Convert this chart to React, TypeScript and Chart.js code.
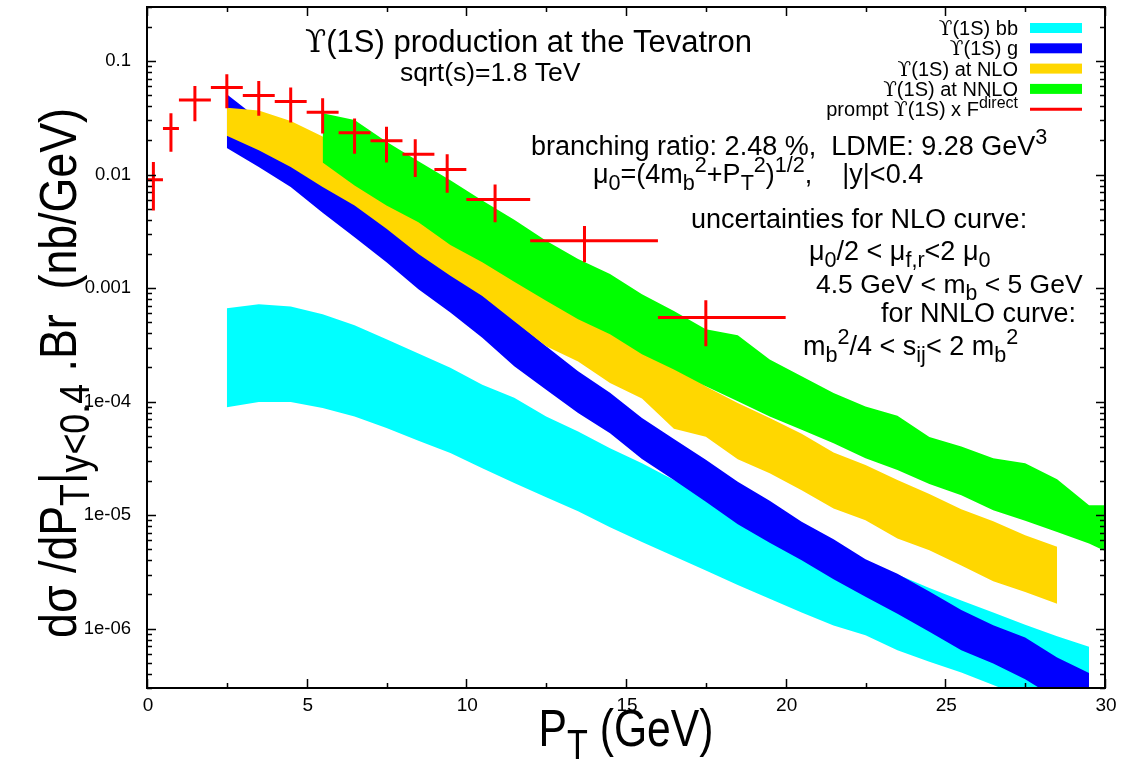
import React, { useEffect, useRef } from "react";
import { Chart, registerables } from "chart.js";

Chart.register(...registerables);

const FONT = "'Liberation Sans', Arial, Helvetica, 'DejaVu Sans', sans-serif";
const SYMFONT = "'DejaVu Serif', 'Liberation Serif', serif";
const CYAN = "#00ffff";
const BLUE = "#0000ff";
const GOLD = "#ffd700";
const GREEN = "#00ff00";
const RED = "#ff0000";

// P_T grid of the theory bands (GeV)
const ptGrid = [2.5, 3.5, 4.5, 5.5, 6.5, 7.5, 8.5, 9.5, 10.5, 11.5, 12.5, 13.5, 14.5, 15.5, 16.5, 17.5, 18.5, 19.5, 20.5, 21.5, 22.5, 23.5, 24.5, 25.5, 26.5, 27.5, 28.5, 29.5];
const nloPt = [2.5, 3.5, 4.5, 5.5, 6.5, 7.5, 8.5, 9.5, 10.5, 11.5, 12.5, 13.5, 14.5, 15.5, 16.5, 17.5, 18.5, 19.5, 20.5, 21.5, 22.5, 23.5, 24.5, 25.5, 26.5, 27.5, 28.5];
const nnloPt = [5.5, 6.5, 7.5, 8.5, 9.5, 10.5, 11.5, 12.5, 13.5, 14.5, 15.5, 16.5, 17.5, 18.5, 19.5, 20.5, 21.5, 22.5, 23.5, 24.5, 25.5, 26.5, 27.5, 28.5, 29.5, 30];

// Upsilon(1S) bb (cyan)
const bbUpper = [6.65e-4, 7.21e-4, 6.89e-4, 5.89e-4, 4.71e-4, 3.54e-4, 2.66e-4, 1.99e-4, 1.41e-4, 1.08e-4, 7.41e-5, 5.46e-5, 3.89e-5, 2.87e-5, 2.04e-5, 1.47e-5, 1.064e-5, 7.67e-6, 5.65e-6, 4.3e-6, 3.55e-6, 3.0e-6, 2.28e-6, 1.77e-6, 1.39e-6, 1.08e-6, 8.59e-7, 6.93e-7];
const bbLower = [8.91e-5, 9.93e-5, 9.93e-5, 8.79e-5, 7.41e-5, 5.85e-5, 4.52e-5, 3.52e-5, 2.59e-5, 1.92e-5, 1.44e-5, 1.084e-5, 7.83e-6, 5.81e-6, 4.34e-6, 3.26e-6, 2.43e-6, 1.83e-6, 1.39e-6, 1.064e-6, 8.75e-7, 6.46e-7, 5.11e-7, 4.1e-7, 3.19e-7, 2.45e-7, 1.92e-7, 1.5e-7];

// Upsilon(1S) g (blue)
const gUpper = [5.11e-2, 3.07e-2, 1.84e-2, 1.107e-2, 6.65e-3, 4.0e-3, 2.4e-3, 1.44e-3, 8.67e-4, 5.21e-4, 3.08e-4, 1.85e-4, 1.2e-4, 7.18e-5, 4.68e-5, 3.07e-5, 1.97e-5, 1.34e-5, 8.73e-6, 6.14e-6, 4.08e-6, 3.05e-6, 2.12e-6, 1.46e-6, 1.07e-6, 8.37e-7, 5.57e-7, 4.06e-7];
const gLower = [1.72e-2, 1.17e-2, 7.78e-3, 4.61e-3, 2.81e-3, 1.69e-3, 9.8e-4, 6.1e-4, 3.66e-4, 2.05e-4, 1.276e-4, 7.94e-5, 5.28e-5, 3.13e-5, 2.04e-5, 1.31e-5, 8.32e-6, 5.71e-6, 4.0e-6, 2.72e-6, 1.91e-6, 1.35e-6, 9.4e-7, 6.46e-7, 4.93e-7, 3.59e-7, 2.4e-7, 1.7e-7];

// Upsilon(1S) at NLO (gold)
const nloUpper = [3.89e-2, 3.68e-2, 2.97e-2, 2.17e-2, 1.44e-2, 9.6e-3, 6.38e-3, 4.25e-3, 2.82e-3, 1.88e-3, 1.225e-3, 8.0e-4, 5.32e-4, 3.4e-4, 2.17e-4, 1.36e-4, 9.73e-5, 7.18e-5, 5.21e-5, 3.57e-5, 2.77e-5, 2.04e-5, 1.535e-5, 1.13e-5, 8.85e-6, 6.65e-6, 5.26e-6];
const nloLower = [2.2e-2, 1.64e-2, 1.17e-2, 7.78e-3, 5.35e-3, 3.33e-3, 2.0e-3, 1.285e-3, 8.55e-4, 5.11e-4, 3.08e-4, 2.26e-4, 1.46e-4, 1.064e-4, 5.77e-5, 4.9e-5, 3.11e-5, 2.34e-5, 1.66e-5, 1.146e-5, 9.04e-6, 6.22e-6, 4.9e-6, 3.61e-6, 2.62e-6, 2.1e-6, 1.66e-6];

// Upsilon(1S) at NNLO (green)
const nnloUpper = [3.47e-2, 3.03e-2, 1.946e-2, 1.312e-2, 8.91e-3, 5.93e-3, 4.0e-3, 2.62e-3, 1.81e-3, 1.33e-3, 8.85e-4, 6.3e-4, 4.34e-4, 3.84e-4, 2.35e-4, 1.67e-4, 1.19e-4, 9.08e-5, 7.52e-5, 4.87e-5, 4.02e-5, 3.18e-5, 2.87e-5, 2.07e-5, 1.22e-5, 1.22e-5];
const nnloLower = [1.277e-2, 8.04e-3, 5.35e-3, 3.81e-3, 2.4e-3, 1.69e-3, 1.14e-3, 7.73e-4, 5.32e-4, 3.92e-4, 2.61e-4, 1.92e-4, 1.365e-4, 1.007e-4, 7.41e-5, 5.65e-5, 4.31e-5, 3.18e-5, 2.5e-5, 1.88e-5, 1.5e-5, 1.107e-5, 8.91e-6, 7.11e-6, 5.62e-6, 4.83e-6];

// prompt Upsilon(1S) x F^direct data
const dataPt = [0.2, 0.75, 1.5, 2.5, 3.5, 4.5, 5.5, 6.5, 7.5, 8.4, 9.4, 10.9, 13.7, 17.5];
const dataPtLow = [0, 0.5, 1, 2, 3, 4, 5, 6, 7, 8, 9, 10, 12, 16];
const dataPtHigh = [0.5, 1, 2, 3, 4, 5, 6, 7, 8, 9, 10, 12, 16, 20];
const dataY = [9.0e-3, 2.55e-2, 4.55e-2, 5.85e-2, 4.97e-2, 4.4e-2, 3.54e-2, 2.34e-2, 1.99e-2, 1.51e-2, 1.11e-2, 6.04e-3, 2.62e-3, 5.51e-4];
const dataYHigh = [1.29e-2, 3.47e-2, 6.04e-2, 7.67e-2, 6.7e-2, 5.85e-2, 4.71e-2, 3.13e-2, 2.64e-2, 2.05e-2, 1.51e-2, 8.2e-3, 3.52e-3, 7.84e-4];
const dataYLow = [4.83e-3, 1.59e-2, 2.96e-2, 3.84e-2, 3.31e-2, 2.88e-2, 2.31e-2, 1.53e-2, 1.28e-2, 9.55e-3, 6.93e-3, 3.81e-3, 1.69e-3, 3.08e-4];

// axes
const xTickValues = [0, 5, 10, 15, 20, 25, 30];
const xTickLabels = ["0", "5", "10", "15", "20", "25", "30"];
const yTickValues = [0.1, 0.01, 0.001, 1e-4, 1e-5, 1e-6];
const yTickLabels = ["0.1", "0.01", "0.001", "1e-04", "1e-05", "1e-06"];

// kinds: 0 normal, 1 superscript, -1 subscript, 2 symbol glyph
type Seg = [string, number];
const UPS = "ϒ";

const legendRows: { segs: Seg[]; color: string; kind: string }[] = [
  { segs: [[UPS, 2], ["(1S) bb", 0]], color: CYAN, kind: "box" },
  { segs: [[UPS, 2], ["(1S) g", 0]], color: BLUE, kind: "box" },
  { segs: [[UPS, 2], ["(1S) at NLO", 0]], color: GOLD, kind: "box" },
  { segs: [[UPS, 2], ["(1S) at NNLO", 0]], color: GREEN, kind: "box" },
  { segs: [["prompt ", 0], [UPS, 2], ["(1S) x F", 0], ["direct", 1]], color: RED, kind: "line" },
];

const annotations: { segs: Seg[]; x: number; y: number; size: number }[] = [
  { segs: [[UPS, 2], ["(1S) production at the Tevatron", 0]], x: 305, y: 52, size: 31 },
  { segs: [["sqrt(s)=1.8 TeV", 0]], x: 400, y: 81, size: 26.5 },
  { segs: [["branching ratio: 2.48 %,  LDME: 9.28 GeV", 0], ["3", 1]], x: 531, y: 155, size: 27 },
  { segs: [["μ", 0], ["0", -1], ["=(4m", 0], ["b", -1], ["2", 1], ["+P", 0], ["T", -1], ["2", 1], [")", 0], ["1/2", 1], [",    |y|<0.4", 0]], x: 593, y: 183, size: 27 },
  { segs: [["uncertainties for NLO curve:", 0]], x: 691, y: 228, size: 27 },
  { segs: [["μ", 0], ["0", -1], ["/2 < μ", 0], ["f,r", -1], ["<2 μ", 0], ["0", -1]], x: 809, y: 260, size: 27 },
  { segs: [["4.5 GeV < m", 0], ["b", -1], [" < 5 GeV", 0]], x: 816, y: 293, size: 26.5 },
  { segs: [["for NNLO curve:", 0]], x: 881, y: 322, size: 27 },
  { segs: [["m", 0], ["b", -1], ["2", 1], ["/4 < s", 0], ["ij", -1], ["< 2 m", 0], ["b", -1], ["2", 1]], x: 803, y: 355, size: 27 },
];

function segFont(k: number, size: number) {
  if (k === 2) return `${size}px ${SYMFONT}`;
  return `${k === 0 ? size : size * 0.8}px ${FONT}`;
}

function drawRich(ctx: CanvasRenderingContext2D, segs: Seg[], x: number, y: number, size: number, align: string, color: string, sx = 1) {
  const widths = segs.map(([t, k]) => {
    ctx.font = segFont(k, size);
    return ctx.measureText(t).width;
  });
  const total = widths.reduce((a, b) => a + b, 0);
  ctx.save();
  ctx.translate(x, y);
  ctx.scale(sx, 1);
  let cx = align === "left" ? 0 : align === "center" ? -total / 2 : -total;
  ctx.fillStyle = color;
  ctx.textAlign = "left";
  ctx.textBaseline = "alphabetic";
  segs.forEach(([t, k], i) => {
    ctx.font = segFont(k, size);
    const dy = k === 1 ? -0.42 * size : k === -1 ? 0.25 * size : 0;
    ctx.fillText(t, cx, dy);
    cx += widths[i];
  });
  ctx.restore();
}

const pts = (xs: number[], ys: number[]) => xs.map((x, i) => ({ x, y: ys[i] }));

const bgPlugin = {
  id: "bg",
  beforeDraw(chart: any) {
    const ctx = chart.ctx;
    ctx.save();
    ctx.fillStyle = "#fff";
    ctx.fillRect(0, 0, chart.width, chart.height);
    ctx.restore();
  },
};

const errorBarPlugin = {
  id: "errorBars",
  afterDatasetsDraw(chart: any) {
    const { ctx, chartArea: a } = chart;
    const xs = chart.scales.x;
    const ys = chart.scales.y;
    ctx.save();
    ctx.beginPath();
    ctx.rect(a.left, a.top, a.right - a.left, a.bottom - a.top);
    ctx.clip();
    ctx.strokeStyle = RED;
    ctx.lineWidth = 3;
    ctx.lineCap = "butt";
    for (let i = 0; i < dataPt.length; i++) {
      const px = xs.getPixelForValue(dataPt[i]);
      const py = ys.getPixelForValue(dataY[i]);
      ctx.beginPath();
      ctx.moveTo(xs.getPixelForValue(dataPtLow[i]), py);
      ctx.lineTo(xs.getPixelForValue(dataPtHigh[i]), py);
      ctx.moveTo(px, ys.getPixelForValue(dataYHigh[i]));
      ctx.lineTo(px, ys.getPixelForValue(dataYLow[i]));
      ctx.stroke();
    }
    ctx.restore();
  },
};

const decorPlugin = {
  id: "decor",
  afterDraw(chart: any) {
    const { ctx, chartArea: a } = chart;
    const xs = chart.scales.x;
    const ys = chart.scales.y;
    ctx.save();
    // ticks
    ctx.strokeStyle = "#000";
    ctx.lineWidth = 1.5;
    ctx.beginPath();
    for (let v = 0; v <= 30.001; v += 2.5) {
      const px = Math.round(xs.getPixelForValue(v)) + 0.5;
      const len = Math.abs(v % 5) < 1e-6 ? 9 : 5;
      ctx.moveTo(px, a.bottom);
      ctx.lineTo(px, a.bottom - len);
      ctx.moveTo(px, a.top);
      ctx.lineTo(px, a.top + len);
    }
    for (let e = -7; e <= 0; e++) {
      for (let m = 1; m <= 9; m++) {
        const v = m * Math.pow(10, e);
        if (v < 3e-7 * 0.999 || v > 0.3 * 1.001) continue;
        const py = Math.round(ys.getPixelForValue(v)) + 0.5;
        const len = m === 1 ? 9 : 5;
        ctx.moveTo(a.left, py);
        ctx.lineTo(a.left + len, py);
        ctx.moveTo(a.right, py);
        ctx.lineTo(a.right - len, py);
      }
    }
    ctx.stroke();
    // frame
    ctx.lineWidth = 2;
    ctx.strokeRect(a.left, a.top, a.right - a.left, a.bottom - a.top);
    // tick labels
    ctx.fillStyle = "#000";
    ctx.font = `18.5px ${FONT}`;
    ctx.textAlign = "right";
    ctx.textBaseline = "middle";
    yTickValues.forEach((v, i) => {
      ctx.fillText(yTickLabels[i], 131, ys.getPixelForValue(v));
    });
    ctx.font = `19px ${FONT}`;
    ctx.textAlign = "center";
    ctx.textBaseline = "top";
    xTickValues.forEach((v, i) => {
      ctx.fillText(xTickLabels[i], xs.getPixelForValue(v) + 1, 696);
    });
    // axis titles
    drawRich(ctx, [["P", 0], ["T", -1], [" (GeV)", 0]], xs.getPixelForValue(15), 746, 52, "center", "#000", 0.82);
    ctx.save();
    ctx.translate(76, 373);
    ctx.rotate(-Math.PI / 2);
    drawRich(ctx, [["dσ /dP", 0], ["T", -1], ["|", 0], ["y<0.4", -1], [" .Br  (nb/GeV)", 0]], 0, 0, 52, "center", "#000", 0.86);
    ctx.restore();
    // annotations
    annotations.forEach((an) => drawRich(ctx, an.segs, an.x, an.y, an.size, "left", "#000"));
    // legend
    legendRows.forEach((row, i) => {
      const cy = 28 + i * 20.3;
      drawRich(ctx, row.segs, 1018, cy + 7, 20, "right", "#000");
      if (row.kind === "box") {
        ctx.fillStyle = row.color;
        ctx.fillRect(1030, cy - 5, 52, 10);
      } else {
        ctx.strokeStyle = row.color;
        ctx.lineWidth = 3;
        ctx.beginPath();
        ctx.moveTo(1030, cy);
        ctx.lineTo(1082, cy);
        ctx.stroke();
      }
    });
    ctx.restore();
  },
};

function bandSets(xs: number[], up: number[], lo: number[], color: string, order: number, name: string) {
  return [
    {
      label: name + " upper",
      data: pts(xs, up),
      fill: "+1",
      backgroundColor: color,
      borderColor: "rgba(0,0,0,0)",
      borderWidth: 0,
      pointRadius: 0,
      tension: 0,
      order,
    },
    {
      label: name + " lower",
      data: pts(xs, lo),
      fill: false,
      backgroundColor: color,
      borderColor: "rgba(0,0,0,0)",
      borderWidth: 0,
      pointRadius: 0,
      tension: 0,
      order,
    },
  ];
}

export default function App() {
  const ref = useRef<HTMLCanvasElement | null>(null);
  useEffect(() => {
    if (!ref.current) return;
    const chart = new Chart(ref.current, {
      type: "line",
      data: {
        datasets: [
          ...bandSets(ptGrid, bbUpper, bbLower, CYAN, 4, "bb"),
          ...bandSets(ptGrid, gUpper, gLower, BLUE, 3, "g"),
          ...bandSets(nloPt, nloUpper, nloLower, GOLD, 2, "NLO"),
          ...bandSets(nnloPt, nnloUpper, nnloLower, GREEN, 1, "NNLO"),
          {
            label: "prompt",
            data: pts(dataPt, dataY),
            showLine: false,
            pointRadius: 0,
            borderColor: RED,
            backgroundColor: RED,
            fill: false,
            order: 0,
          },
        ] as any,
      },
      options: {
        responsive: false,
        animation: false,
        devicePixelRatio: 1,
        events: [],
        layout: { padding: { left: 147, right: 16, top: 7, bottom: 73 } },
        scales: {
          x: { type: "linear", min: 0, max: 30, display: false },
          y: { type: "logarithmic", min: 3e-7, max: 0.3, display: false },
        },
        plugins: {
          legend: { display: false },
          tooltip: { enabled: false },
        },
      } as any,
      plugins: [bgPlugin, errorBarPlugin, decorPlugin],
    });
    return () => chart.destroy();
  }, []);
  return (
    <div style={{ position: "fixed", left: 0, top: 0, width: 1121, height: 761, background: "#fff" }}>
      <canvas ref={ref} width={1121} height={761} style={{ display: "block" }} />
    </div>
  );
}
